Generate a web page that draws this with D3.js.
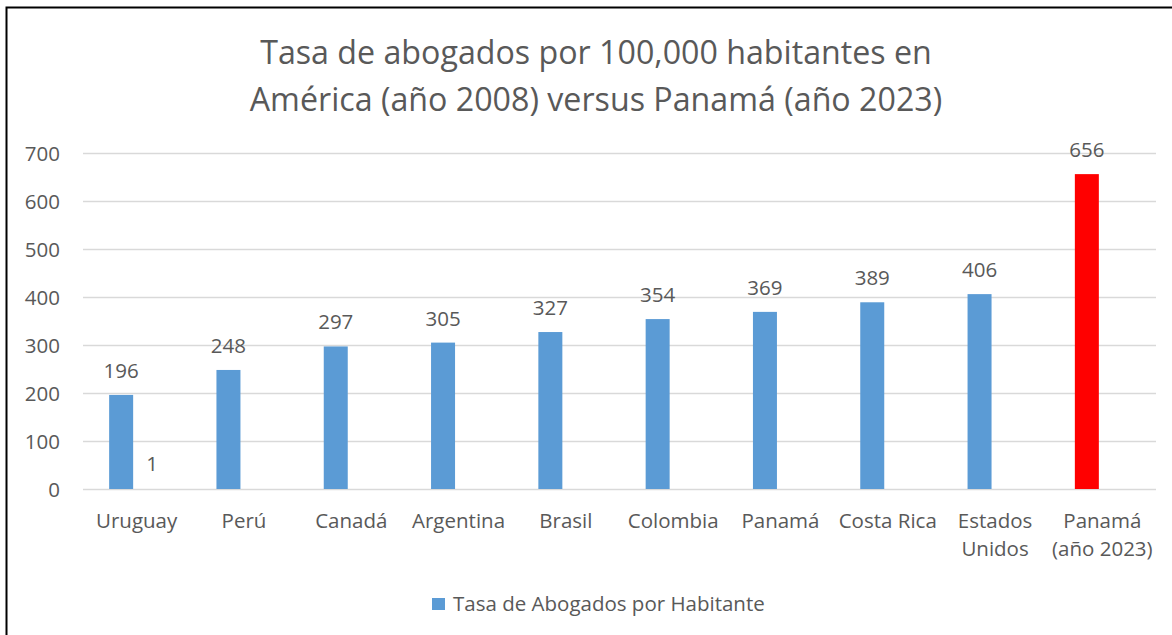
<!DOCTYPE html>
<html>
<head>
<meta charset="utf-8">
<script src="https://cdn.jsdelivr.net/npm/d3@7"></script>
<style>
  html, body { margin: 0; padding: 0; background: #fff; }
  svg { display: block; }
  text { font-family: "Open Sans", Lato, sans-serif; fill: #595959; }
</style>
</head>
<body>
<svg id="chart" width="1172" height="635"></svg>
<script>
const titleLines = ["Tasa de abogados por 100,000 habitantes en", "América (año 2008) versus Panamá (año 2023)"];
const categories = ["Uruguay", "Perú", "Canadá", "Argentina", "Brasil", "Colombia", "Panamá", "Costa Rica", "Estados\nUnidos", "Panamá\n(año 2023)"];
const seriesName = "Tasa de Abogados por Habitante";
const values = [196, 248, 297, 305, 327, 354, 369, 389, 406, 656];
const secondValues = [1, null, null, null, null, null, null, null, null, null];
const yTicks = [0, 100, 200, 300, 400, 500, 600, 700];

const svg = d3.select("#chart");
const W = 1172, H = 635;
const plot = { left: 83, right: 1156, top: 153, bottom: 489 };
const FS = "20.5px";

// border (top and left)
svg.append("path")
  .attr("d", `M6.5,${H} L6.5,7.5 L${W},7.5`)
  .attr("fill", "none").attr("stroke", "#000").attr("stroke-width", 2);

// title
const title = svg.append("g");
titleLines.forEach((t, i) => {
  title.append("text")
    .attr("x", 596).attr("y", 64 + i * 47)
    .attr("text-anchor", "middle")
    .style("font-size", "32.2px")
    .style("font-weight", 400)
    .text(t);
});

const x = d3.scaleBand().domain(categories).range([plot.left, plot.right]).padding(0);
const bw = x.bandwidth();
const x1 = d3.scaleBand().domain(["s0", "s1"]).range([bw / 2 - 27.5, bw / 2 + 27.5]).paddingInner(0.226);
const y = d3.scaleLinear().domain([0, 700]).range([plot.bottom, plot.top]);

// gridlines
svg.append("g").selectAll("line").data(yTicks).join("line")
  .attr("x1", plot.left).attr("x2", plot.right)
  .attr("y1", d => Math.round(y(d)) + 0.5).attr("y2", d => Math.round(y(d)) + 0.5)
  .attr("stroke", "#d9d9d9").attr("stroke-width", 1.5);

// y axis labels
const yAxis = d3.axisLeft(y).tickValues(yTicks).tickSize(0).tickPadding(0);
const ya = svg.append("g").attr("transform", `translate(60,0)`).call(yAxis);
ya.select(".domain").remove();
ya.selectAll("text").style("font-size", FS).style("font-family", "'Open Sans', sans-serif").attr("fill", "#595959").attr("dy", "0.35em");

// bars
const barColor = (d, i) => i === categories.length - 1 ? "#FF0000" : "#5B9BD5";
svg.append("g").selectAll("rect").data(values).join("rect")
  .attr("x", (d, i) => x(categories[i]) + x1("s0"))
  .attr("width", x1.bandwidth())
  .attr("y", d => y(d))
  .attr("height", d => y(0) - y(d))
  .attr("fill", barColor);

// value labels
svg.append("g").selectAll("text").data(values).join("text")
  .attr("x", (d, i) => x(categories[i]) + x1("s0") + x1.bandwidth() / 2)
  .attr("y", d => y(d) - 17)
  .attr("text-anchor", "middle")
  .style("font-size", FS)
  .text(d => d);

// second series (tiny)
const sec = secondValues.map((v, i) => ({ v, c: categories[i] })).filter(d => d.v != null);
svg.append("g").selectAll("rect").data(sec).join("rect")
  .attr("x", d => x(d.c) + x1("s1"))
  .attr("width", x1.bandwidth())
  .attr("y", d => y(d.v))
  .attr("height", d => y(0) - y(d.v))
  .attr("fill", "#ED7D31").attr("opacity", 0);
svg.append("g").selectAll("text").data(sec).join("text")
  .attr("x", d => x(d.c) + x1("s1") + x1.bandwidth() / 2)
  .attr("y", d => y(d.v) - 18)
  .attr("text-anchor", "middle")
  .style("font-size", FS)
  .text(d => d.v);

// category labels
const cg = svg.append("g");
categories.forEach(c => {
  const t = cg.append("text")
    .attr("x", x(c) + bw / 2)
    .attr("y", 528)
    .attr("text-anchor", "middle")
    .style("font-size", FS);
  c.split("\n").forEach((line, j) => {
    t.append("tspan").attr("x", x(c) + bw / 2).attr("dy", j === 0 ? 0 : 28).text(line);
  });
});

// legend
svg.append("rect").attr("x", 432).attr("y", 598).attr("width", 13).attr("height", 12).attr("fill", "#5B9BD5");
svg.append("text").attr("x", 453).attr("y", 611).style("font-size", FS).text(seriesName);
</script>
</body>
</html>
